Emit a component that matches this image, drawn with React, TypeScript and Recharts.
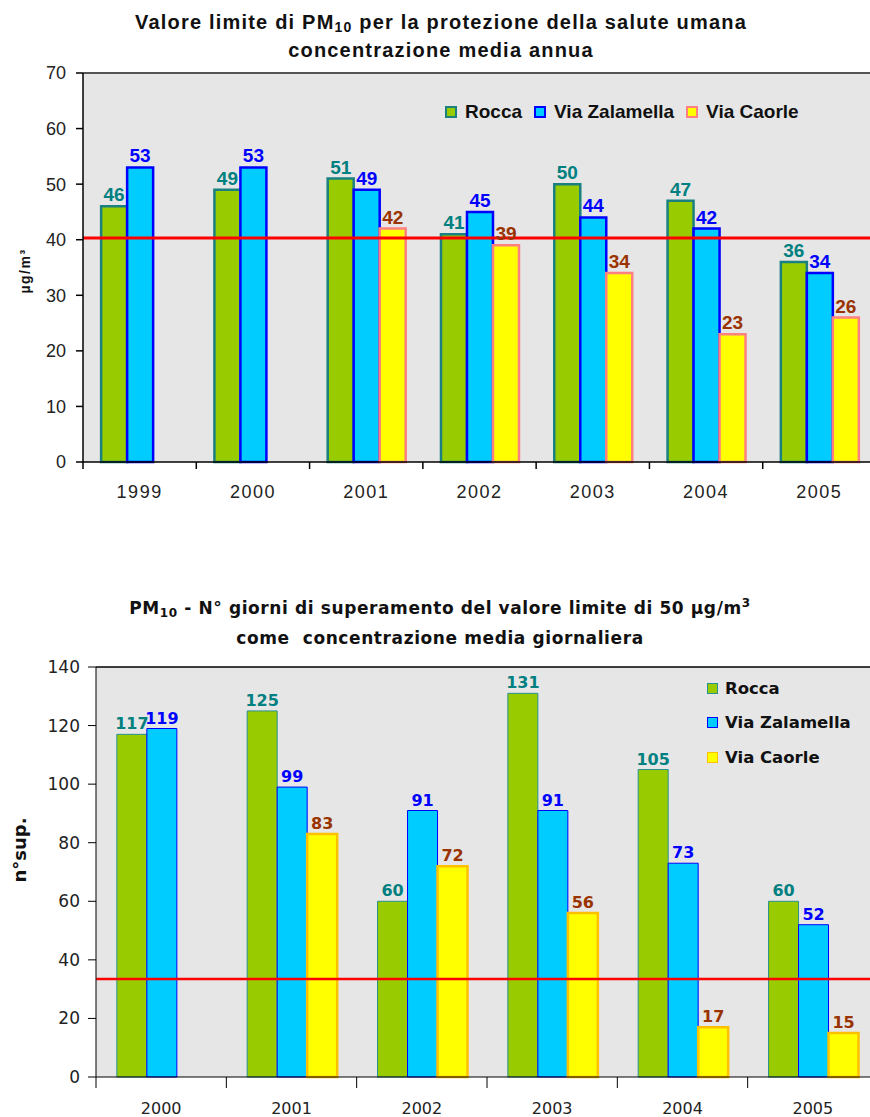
import React from "react";
import {
  BarChart, Bar, XAxis, YAxis, CartesianGrid, ReferenceLine, LabelList, Legend
} from "recharts";

// --- chart 1: annual mean PM10 ---
const years1 = ["1999", "2000", "2001", "2002", "2003", "2004", "2005"];
const rocca1 = [46, 49, 51, 41, 50, 47, 36];
const zalamella1 = [53, 53, 49, 45, 44, 42, 34];
const caorle1 = [null, null, 42, 39, 34, 23, 26];
const yTicks1 = [0, 10, 20, 30, 40, 50, 60, 70];
const limit1 = 40.3;

// --- chart 2: number of days over 50 µg/m3 ---
const years2 = ["2000", "2001", "2002", "2003", "2004", "2005"];
const rocca2 = [117, 125, 60, 131, 105, 60];
const zalamella2 = [119, 99, 91, 91, 73, 52];
const caorle2 = [null, 83, 72, 56, 17, 15];
const yTicks2 = [0, 20, 40, 60, 80, 100, 120, 140];
const limit2 = 33.5;

const seriesNames = ["Rocca", "Via Zalamella", "Via Caorle"];

const data1 = years1.map((y, i) => ({ year: y, rocca: rocca1[i], zalamella: zalamella1[i], caorle: caorle1[i] }));
const data2 = years2.map((y, i) => ({ year: y, rocca: rocca2[i], zalamella: zalamella2[i], caorle: caorle2[i] }));

const ARIAL = "'Liberation Sans', Arial, Helvetica, sans-serif";
const TAHOMA = "'DejaVu Sans', Verdana, Tahoma, sans-serif";

const W1 = 880, H1 = 510, LEFT1 = 83, RIGHT1 = 4;
const BAND1 = (W1 - LEFT1 - RIGHT1) / years1.length;
const W2 = 880, H2 = 557, LEFT2 = 96, RIGHT2 = 2;
const BAND2 = (W2 - LEFT2 - RIGHT2) / years2.length;

const fills = ["#99cc00", "#00ccff", "#ffff00"];
const strokes1 = ["#1a8080", "#0000ff", "#ff8080"];
const strokes2 = ["#2a9090", "#0000ff", "#ffc000"];
const labelColors = ["#008080", "#0000ff", "#993300"];
const bg = "#e6e6e6";

function YearTick1(props: any) {
  const { x, y, payload } = props;
  const bx = x - BAND1 / 2;
  return (
    <g>
      <line x1={bx} x2={bx} y1={y} y2={y + 7} stroke="#000" strokeWidth={1.5} />
      <text x={x} y={y + 30} textAnchor="middle" dominantBaseline="central"
        fontFamily={ARIAL} fontSize={18} letterSpacing={1.5} fill="#222">{payload.value}</text>
    </g>
  );
}

function YearTick2(props: any) {
  const { x, y, payload } = props;
  const bx = x - BAND2 / 2;
  return (
    <g>
      <line x1={bx} x2={bx} y1={y} y2={y + 11} stroke="#000" strokeWidth={1} />
      <text x={x} y={y + 31} textAnchor="middle" dominantBaseline="central"
        fontFamily={TAHOMA} fontSize={16} fill="#222">{payload.value}</text>
    </g>
  );
}

function Legend1() {
  return (
    <div style={{ display: "flex", alignItems: "center", fontFamily: ARIAL, fontSize: 19, fontWeight: "bold", color: "#111", lineHeight: "22px" }}>
      {seriesNames.map((n, i) => (
        <span key={n} style={{ display: "flex", alignItems: "center", marginRight: 12 }}>
          <span style={{ display: "inline-block", width: 8, height: 8, background: fills[i], border: `2px solid ${strokes1[i]}`, marginRight: 8 }} />
          {n}
        </span>
      ))}
    </div>
  );
}

function Legend2() {
  return (
    <div style={{ fontFamily: TAHOMA, fontSize: 16.5, fontWeight: "bold", color: "#111" }}>
      {seriesNames.map((n, i) => (
        <div key={n} style={{ display: "flex", alignItems: "center", height: 34.5 }}>
          <span style={{ display: "inline-block", width: 9, height: 9, background: fills[i], border: `1.5px solid ${strokes2[i]}`, marginRight: 7 }} />
          {n}
        </div>
      ))}
    </div>
  );
}

export default function App() {
  return (
    <div style={{ position: "absolute", left: 0, top: 0, width: 870, height: 1117, overflow: "hidden", background: "#fff" }}>
      {/* chart 1 */}
      <div style={{ position: "absolute", left: 0, top: 8, width: 882, textAlign: "center", fontFamily: ARIAL, fontWeight: "bold", fontSize: 20, letterSpacing: 1.2, lineHeight: "28px", color: "#111" }}>
        <div>Valore limite di PM<sub style={{ fontSize: 14, verticalAlign: "-3px", lineHeight: 0 }}>10</sub> per la protezione della salute umana</div>
        <div>concentrazione media annua</div>
      </div>
      <div style={{ position: "absolute", left: 25, top: 271, transform: "translate(-50%, -50%) rotate(-90deg)", fontFamily: ARIAL, fontWeight: "bold", fontSize: 14, letterSpacing: 1.5, whiteSpace: "nowrap", color: "#111" }}>
        µg/m³
      </div>
      <div style={{ position: "absolute", left: 0, top: 0 }}>
        <BarChart width={W1} height={H1} data={data1} margin={{ top: 73, right: RIGHT1, bottom: 0, left: 0 }}
          barCategoryGap="16%" barGap={0}>
          <CartesianGrid horizontal={false} vertical={false} fill={bg} />
          <XAxis dataKey="year" height={H1 - 462} axisLine={{ stroke: "#000", strokeWidth: 1.5 }}
            tickLine={false} tickSize={0} tickMargin={0} tick={<YearTick1 />} interval={0} />
          <YAxis width={LEFT1} domain={[0, 70]} ticks={yTicks1} interval={0}
            axisLine={{ stroke: "#000", strokeWidth: 1.5 }} tickLine={{ stroke: "#000", strokeWidth: 1.5 }}
            tickSize={7} tickMargin={10} tick={{ fontFamily: ARIAL, fontSize: 18, fill: "#222" }} />
          <ReferenceLine y={70} stroke="#555" strokeWidth={2} />
          <Legend layout="horizontal" align="center" verticalAlign="middle" content={<Legend1 />}
            wrapperStyle={{ top: 101, left: 445, width: "auto" }} />
          {(["rocca", "zalamella", "caorle"] as const).map((k, i) => (
            <Bar key={k} dataKey={k} name={seriesNames[i]} fill={fills[i]} stroke={strokes1[i]} strokeWidth={2.5} isAnimationActive={false}>
              <LabelList dataKey={k} position="top" offset={5} fill={labelColors[i]} fontFamily={ARIAL} fontSize={19} fontWeight="bold" />
            </Bar>
          ))}
          <ReferenceLine y={limit1} stroke="#ff0000" strokeWidth={3} />
        </BarChart>
      </div>

      {/* chart 2 */}
      <div style={{ position: "absolute", left: 0, top: 593, width: 880, textAlign: "center", fontFamily: TAHOMA, fontWeight: "bold", fontSize: 17, letterSpacing: 0.6, lineHeight: "30px", color: "#111", whiteSpace: "pre" }}>
        <div>PM<sub style={{ fontSize: 12, verticalAlign: "-3px", lineHeight: 0 }}>10</sub> - N° giorni di superamento del valore limite di 50 µg/m<sup style={{ fontSize: 12, lineHeight: 0 }}>3</sup></div>
        <div>come  concentrazione media giornaliera</div>
      </div>
      <div style={{ position: "absolute", left: 19, top: 850, transform: "translate(-50%, -50%) rotate(-90deg)", fontFamily: TAHOMA, fontWeight: "bold", fontSize: 18, whiteSpace: "nowrap", color: "#111" }}>
        n°sup.
      </div>
      <div style={{ position: "absolute", left: 0, top: 560 }}>
        <BarChart width={W2} height={H2} data={data2} margin={{ top: 107, right: RIGHT2, bottom: 0, left: 0 }}
          barCategoryGap="16%" barGap={0}>
          <CartesianGrid horizontal={false} vertical={false} fill={bg} />
          <XAxis dataKey="year" height={H2 - 517} axisLine={{ stroke: "#000", strokeWidth: 1 }}
            tickLine={false} tickSize={0} tickMargin={0} tick={<YearTick2 />} interval={0} />
          <YAxis width={LEFT2} domain={[0, 140]} ticks={yTicks2} interval={0}
            axisLine={{ stroke: "#000", strokeWidth: 1 }} tickLine={{ stroke: "#000", strokeWidth: 1 }}
            tickSize={8} tickMargin={8} tick={{ fontFamily: TAHOMA, fontSize: 17, fill: "#222" }} />
          <ReferenceLine y={140} stroke="#000" strokeWidth={1.5} />
          <Legend layout="vertical" align="center" verticalAlign="middle" content={<Legend2 />}
            wrapperStyle={{ top: 111, left: 707, width: "auto" }} />
          {(["rocca", "zalamella", "caorle"] as const).map((k, i) => (
            <Bar key={k} dataKey={k} name={seriesNames[i]} fill={fills[i]} stroke={strokes2[i]} strokeWidth={i === 2 ? 2.5 : 1} isAnimationActive={false}>
              <LabelList dataKey={k} position="top" offset={5} fill={labelColors[i]} fontFamily={TAHOMA} fontSize={16} fontWeight="bold" />
            </Bar>
          ))}
          <ReferenceLine y={limit2} stroke="#ff0000" strokeWidth={2.5} />
        </BarChart>
      </div>
    </div>
  );
}
